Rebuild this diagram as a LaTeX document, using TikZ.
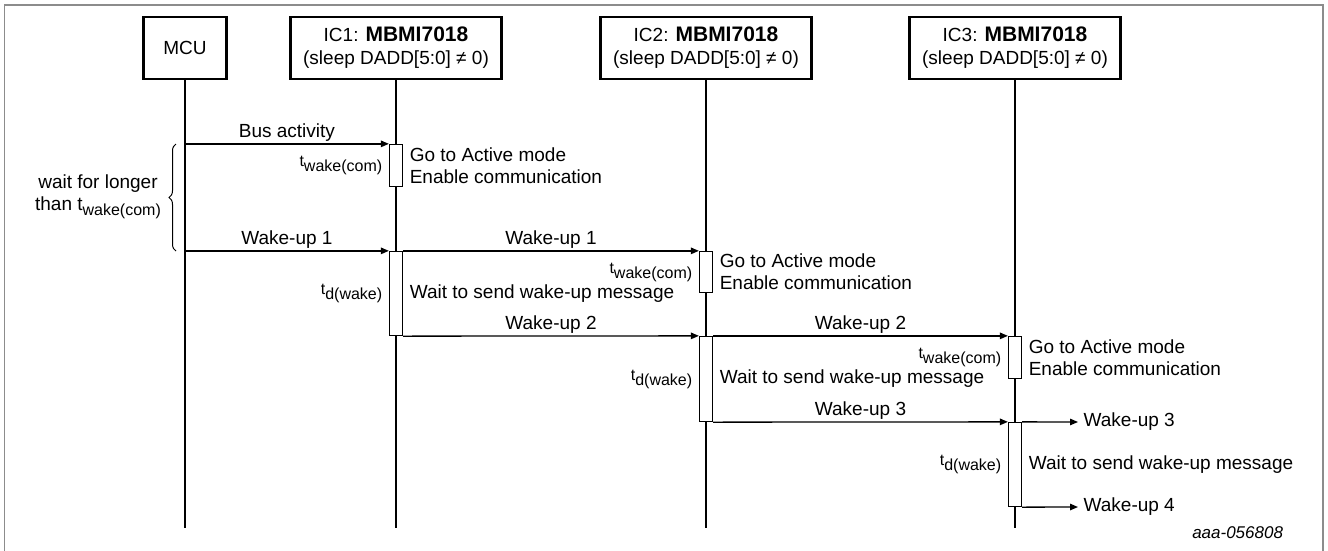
\documentclass[tikz,border=0pt]{standalone}
\usepackage{fontspec}
\setmainfont{Liberation Sans}
\usepackage{tikz}
\usetikzlibrary{arrows.meta,decorations.pathreplacing}
\usepackage{xcolor}
\definecolor{cframe}{RGB}{140,140,140}
\newcommand{\tdel}[1]{t\raisebox{-5pt}{\fontsize{16}{16}\selectfont #1}}
\newcommand{\chip}{{\fontsize{21}{22}\selectfont\bfseries MBMI7018}}

\begin{document}
\begin{tikzpicture}[x=1pt, y=-1pt, line width=1.3pt, >={Triangle[length=8pt,width=6.5pt]},
  every node/.style={font=\fontsize{19}{22}\selectfont},
  head/.style={draw, line width=2.5pt, minimum height=62pt, align=center, inner sep=0pt},
  act/.style={draw, fill=white, minimum width=13pt, inner sep=0pt},
  msg/.style={->},
  lbl/.style={midway, above, inner sep=2pt},
  note/.style={align=left, anchor=west, inner sep=0pt, xshift=6pt},
  delay/.style={anchor=east, inner sep=0pt, xshift=-6pt, font=\fontsize{16}{18}\selectfont}]
\useasboundingbox (0,0) rectangle (1328,550);
\draw[cframe, line width=1.5pt] (4.5,555) -- (4.5,5) -- (1323,5) -- (1323,555);

% participants
\node[head, minimum width=83pt] (mcu) at (185,48) {MCU};
\node[head, minimum width=211pt] (ic1) at (396,48) {IC1: \chip\\[1pt](sleep DADD[5:0] ≠ 0)};
\node[head, minimum width=211pt] (ic2) at (706,48) {IC2: \chip\\[1pt](sleep DADD[5:0] ≠ 0)};
\node[head, minimum width=211pt] (ic3) at (1015,48) {IC3: \chip\\[1pt](sleep DADD[5:0] ≠ 0)};
\coordinate (bottom) at (0,528);
\foreach \n in {mcu,ic1,ic2,ic3}
  \draw (\n.south) -- (\n.south |- bottom);

% activations
\node[act, minimum height=42pt] (a11) at (396,165.5) {};
\node[act, minimum height=84pt] (a12) at (396,293.5) {};
\node[act, minimum height=41pt] (a21) at (706,272) {};
\node[act, minimum height=85pt] (a22) at (706,379) {};
\node[act, minimum height=42pt] (a31) at (1015,357.5) {};
\node[act, minimum height=84pt] (a32) at (1015,464.5) {};

% messages
\draw[msg] (mcu.south |- a11.north) -- (a11.north west) node[lbl] {Bus activity};
\draw[msg] (mcu.south |- a12.north) -- (a12.north west) node[lbl] {Wake-up 1};
\draw[msg] (a12.north east) -- (a21.north west) node[lbl] {Wake-up 1};
\draw[msg] (a12.south east) -- (a22.north west) node[lbl] {Wake-up 2};
\draw[msg] (a22.north east) -- (a31.north west) node[lbl] {Wake-up 2};
\draw[msg] (a22.south east) -- (a32.north west) node[lbl] {Wake-up 3};
\coordinate (w3) at (1078,422);
\coordinate (w4) at (1078,507);
\draw[msg] (a32.north east) -- (w3) node[right, inner sep=5pt] (out3) {Wake-up 3};
\draw[msg] (a32.south east) -- (w4) node[right, inner sep=5pt] (out4) {Wake-up 4};

% notes
\node[note] (go1) at (a11.east) {Go to Active mode\\Enable communication};
\node[note] (go2) at (a21.east) {Go to Active mode\\Enable communication};
\node[note] (go3) at (a31.east) {Go to Active mode\\Enable communication};
\node[note] (wt1) at (a12.east) {Wait to send wake-up message};
\node[note] (wt2) at (a22.east) {Wait to send wake-up message};
\node[note] (wt3) at (a32.east) {Wait to send wake-up message};
\node[delay] (tw1) at (a11.west) {\tdel{wake(com)}};
\node[delay] (tw2) at (a21.west) {\tdel{wake(com)}};
\node[delay] (tw3) at (a31.west) {\tdel{wake(com)}};
\node[delay] (td1) at (a12.west) {\tdel{d(wake)}};
\node[delay] (td2) at (a22.west) {\tdel{d(wake)}};
\node[delay] (td3) at (a32.west) {\tdel{d(wake)}};

% wait brace
\coordinate (b1) at (176,144);
\coordinate (b2) at (176,251);
\draw[decorate, decoration={brace, amplitude=7pt}, line width=1pt] (b2) -- (b1);
\node[align=center] (wait) at (98,197) {wait for longer\\than \tdel{wake(com)}};

\node[anchor=east, font=\fontsize{17}{18}\selectfont\itshape] (ref) at (1287,533) {aaa-056808};
\end{tikzpicture}
\end{document}
